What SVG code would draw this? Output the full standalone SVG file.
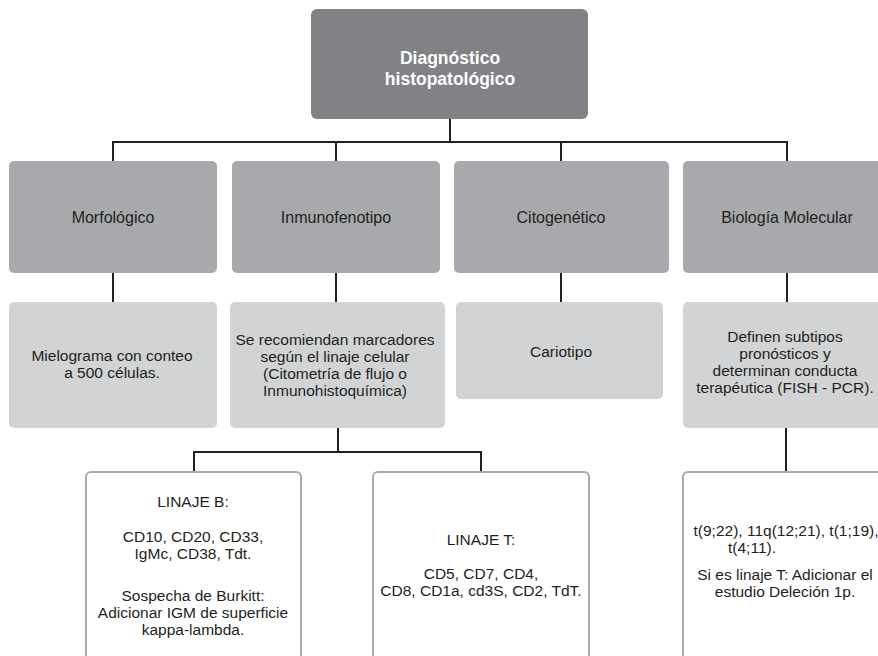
<svg xmlns="http://www.w3.org/2000/svg" width="878" height="656" viewBox="0 0 878 656">
<style>
text{font-family:"Liberation Sans",Arial,sans-serif;fill:#231f20;text-anchor:middle}
.top{fill:#808285}
.l1{fill:#a7a9ac}
.l2{fill:#d1d3d4}
.l3{fill:#ffffff;stroke:#a7a9ac;stroke-width:2}
.t0{font-size:17.5px;font-weight:bold;fill:#ffffff}
.t1{font-size:16px}
.t2{font-size:15.5px}
.conn{fill:none;stroke:#231f20;stroke-width:2}
</style>
<rect width="878" height="656" fill="#ffffff"/>
<g id="connectors" class="conn">
<path d="M450 119V142M113 161V142H787V161M336 142V161M561 142V161"/>
<path d="M113 273V302M336 273V302M561 273V302M787 273V302"/>
<path d="M338 428V452M194 472V452H481V472M786 428V472"/>
</g>
<g id="diagnostico">
<rect class="top" x="311" y="9" width="277" height="110" rx="6"/>
<text class="t0" x="450" y="64">Diagnóstico</text>
<text class="t0" x="450" y="85">histopatológico</text>
</g>
<g id="morfologico">
<rect class="l1" x="9" y="161" width="208" height="112" rx="5"/>
<text class="t1" x="113" y="223">Morfológico</text>
</g>
<g id="inmunofenotipo">
<rect class="l1" x="232" y="161" width="208" height="112" rx="5"/>
<text class="t1" x="336" y="223">Inmunofenotipo</text>
</g>
<g id="citogenetico">
<rect class="l1" x="454" y="161" width="215" height="112" rx="5"/>
<text class="t1" x="561" y="223">Citogenético</text>
</g>
<g id="biologia">
<rect class="l1" x="683" y="161" width="215" height="112" rx="5"/>
<text class="t1" x="787" y="223">Biología Molecular</text>
</g>
<g id="mielograma">
<rect class="l2" x="9" y="302" width="208" height="126" rx="5"/>
<text class="t2" x="112" y="361">Mielograma con conteo</text>
<text class="t2" x="112" y="378">a 500 células.</text>
</g>
<g id="marcadores">
<rect class="l2" x="230" y="302" width="215" height="126" rx="5"/>
<text class="t2" x="335" y="345">Se recomiendan marcadores</text>
<text class="t2" x="335" y="362">según el linaje celular</text>
<text class="t2" x="335" y="379">(Citometría de flujo o</text>
<text class="t2" x="335" y="396">Inmunohistoquímica)</text>
</g>
<g id="cariotipo">
<rect class="l2" x="456" y="302" width="207" height="97" rx="5"/>
<text class="t2" x="561" y="357">Cariotipo</text>
</g>
<g id="definen">
<rect class="l2" x="683" y="302" width="215" height="126" rx="5"/>
<text class="t2" x="785" y="342">Definen subtipos</text>
<text class="t2" x="785" y="359">pronósticos y</text>
<text class="t2" x="785" y="376">determinan conducta</text>
<text class="t2" x="785" y="393">terapéutica (FISH - PCR).</text>
</g>
<g id="linajeB">
<rect class="l3" x="86" y="472" width="215" height="200" rx="5"/>
<text class="t2" x="193" y="507">LINAJE B:</text>
<text class="t2" x="193" y="542">CD10, CD20, CD33,</text>
<text class="t2" x="193" y="559">IgMc, CD38, Tdt.</text>
<text class="t2" x="193" y="601">Sospecha de Burkitt:</text>
<text class="t2" x="193" y="618">Adicionar IGM de superficie</text>
<text class="t2" x="193" y="635">kappa-lambda.</text>
</g>
<g id="linajeT">
<rect class="l3" x="373" y="472" width="216" height="200" rx="5"/>
<text class="t2" x="481" y="545">LINAJE T:</text>
<text class="t2" x="481" y="579">CD5, CD7, CD4,</text>
<text class="t2" x="481" y="596">CD8, CD1a, cd3S, CD2, TdT.</text>
</g>
<g id="translocaciones">
<rect class="l3" x="683" y="472" width="215" height="200" rx="5"/>
<text class="t2" x="786" y="536">t(9;22), 11q(12;21), t(1;19),</text>
<text class="t2" x="752" y="553">t(4;11).</text>
<text class="t2" x="785" y="580">Si es linaje T: Adicionar el</text>
<text class="t2" x="785" y="597">estudio Deleción 1p.</text>
</g>
</svg>
